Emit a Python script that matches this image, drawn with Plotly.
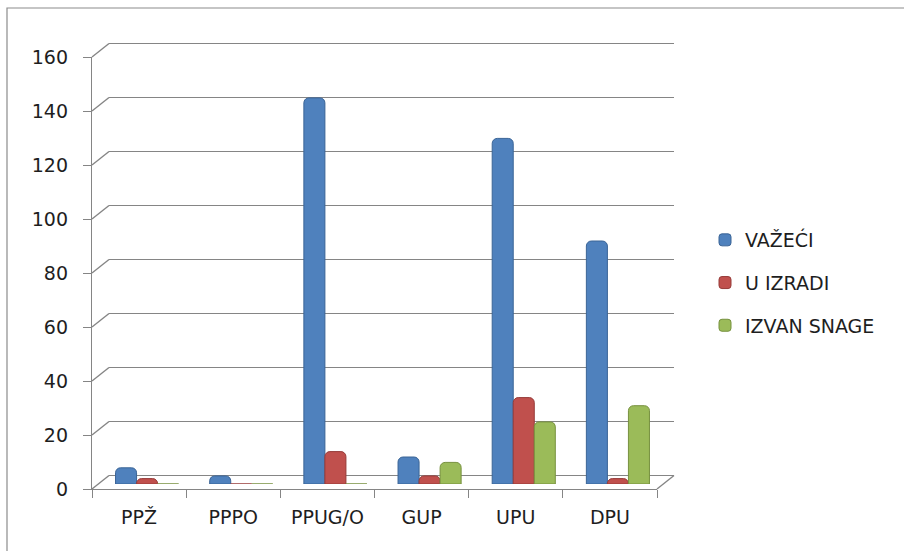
import plotly.graph_objects as go

# ---------------- data ----------------
categories = ["PPŽ", "PPPO", "PPUG/O", "GUP", "UPU", "DPU"]
vazeci = [6, 3, 143, 10, 128, 90]
u_izradi = [2, 0, 12, 3, 32, 2]
izvan_snage = [0, 0, 0, 8, 23, 29]
series_names = ["VAŽEĆI", "U IZRADI", "IZVAN SNAGE"]
y_ticks = [0, 20, 40, 60, 80, 100, 120, 140, 160]
y_max = 160

# ---------------- geometry (pixels) ----------------
W, H = 904, 551
front_left, front_right = 92, 657
front_bottom, front_top = 489, 57
depth_dx, depth_dy = 17, 13.5      # back wall offset
bar_dx, bar_dy = 8, 5              # bars sit mid-depth
cat_px = (front_right - front_left) / len(categories)
unit_px = (front_bottom - front_top) / y_max
pad = 1.0                          # range padding (units) so edge grid lines show

GRID = "#858585"
FONT = dict(family="DejaVu Sans", size=19, color="#1e1e1e")


def px(x):
    return x / W


def py(y):
    return 1 - y / H


colors = ["#4F81BD", "#C0504D", "#9BBB59"]
edge_colors = ["#3A6496", "#963B39", "#77913F"]

fig = go.Figure()

# back wall subplot (grid only) and front axes subplot (ticks / labels only)
fig.add_trace(go.Scatter(x=[None], y=[None], xaxis="x", yaxis="y",
                         showlegend=False, hoverinfo="skip"))
fig.add_trace(go.Scatter(x=[categories[0]], y=[None], xaxis="x2", yaxis="y2",
                         showlegend=False, hoverinfo="skip"))

# bars (mid-depth subplot)
for name, vals, c, lc in zip(series_names, [vazeci, u_izradi, izvan_snage],
                             colors, edge_colors):
    fig.add_trace(go.Bar(
        x=categories, y=vals, name=name, xaxis="x3", yaxis="y3",
        legendgroup=name,
        marker=dict(color=c, line=dict(color=lc, width=1), cornerradius=5),
    ))

shapes = []
# perspective connectors from front axis to back wall
for v in y_ticks:
    yf = front_bottom - v * unit_px
    shapes.append(dict(type="line", xref="paper", yref="paper",
                       x0=px(front_left), y0=py(yf),
                       x1=px(front_left + depth_dx), y1=py(yf - depth_dy),
                       line=dict(color=GRID, width=1.4), layer="below"))
# floor right edge
shapes.append(dict(type="line", xref="paper", yref="paper",
                   x0=px(front_right), y0=py(front_bottom),
                   x1=px(front_right + depth_dx), y1=py(front_bottom - depth_dy),
                   line=dict(color=GRID, width=1.4), layer="below"))
# outer chart border
shapes.append(dict(type="rect", xref="paper", yref="paper",
                   x0=px(7), y0=-0.2, x1=1.2, y1=py(8),
                   line=dict(color="#8c8c8c", width=1.2), layer="below"))

fig.update_layout(
    width=W, height=H,
    margin=dict(l=0, r=0, t=0, b=0),
    paper_bgcolor="white", plot_bgcolor="rgba(0,0,0,0)",
    font=FONT,
    barmode="group", bargap=0.33, bargroupgap=0,
    shapes=shapes,
    showlegend=True,
    legend=dict(x=px(705), y=py(221), xanchor="left", yanchor="top",
                traceorder="grouped", tracegroupgap=15,
                font=FONT, bgcolor="rgba(0,0,0,0)"),
    # back wall
    xaxis=dict(domain=[px(front_left + depth_dx), px(front_right + depth_dx)],
               range=[0, 1], anchor="y", showgrid=False, zeroline=False,
               showticklabels=False, ticks="", showline=False, automargin=False),
    yaxis=dict(domain=[py(front_bottom - depth_dy + pad * unit_px),
                       py(front_top - depth_dy - pad * unit_px)],
               range=[-pad, y_max + pad], anchor="x", tickvals=y_ticks,
               showgrid=True, gridcolor=GRID, gridwidth=1.4, zeroline=False,
               showticklabels=False, ticks="", showline=False, automargin=False),
    # front axes
    xaxis2=dict(domain=[px(front_left), px(front_right)], anchor="y2",
                type="category", categoryorder="array", categoryarray=categories,
                range=[-0.5, len(categories) - 0.5],
                showgrid=False, zeroline=False, showline=True,
                linecolor=GRID, linewidth=1.4,
                ticks="outside", tickson="boundaries", ticklen=8,
                tickcolor=GRID, tickwidth=1.4, tickfont=FONT,
                ticklabelstandoff=11, automargin=False),
    yaxis2=dict(domain=[py(front_bottom), py(front_top)], anchor="x2",
                range=[0, y_max], tickvals=y_ticks,
                showgrid=False, zeroline=False, showline=True,
                linecolor=GRID, linewidth=1.4,
                ticks="outside", ticklen=8, tickcolor=GRID, tickwidth=1.4,
                tickfont=FONT, ticklabelstandoff=11, automargin=False),
    # bars (mid-depth)
    xaxis3=dict(domain=[px(front_left + bar_dx), px(front_right + bar_dx)],
                anchor="y3", type="category",
                categoryorder="array", categoryarray=categories,
                range=[-0.5, len(categories) - 0.5], visible=False),
    yaxis3=dict(domain=[py(front_bottom - bar_dy), py(front_top - bar_dy)],
                anchor="x3", range=[0, y_max], visible=False),
)

fig.write_html("out.html", config={"displayModeBar": False},
               post_script="document.body.style.margin='0';")
